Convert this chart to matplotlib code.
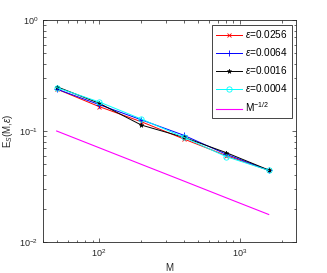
import matplotlib
matplotlib.use("Agg")
import matplotlib.pyplot as plt
import numpy as np

plt.rcParams['font.family'] = ['Liberation Sans', 'DejaVu Sans']
plt.rcParams['mathtext.fontset'] = 'custom'
plt.rcParams['mathtext.rm'] = 'Liberation Sans'
plt.rcParams['mathtext.it'] = 'Liberation Sans:italic'

M = [50, 100, 200, 400, 800, 1600]
err_0256 = [0.239, 0.166, 0.121, 0.0847, 0.0600, 0.0442]
err_0064 = [0.239, 0.173, 0.126, 0.0915, 0.0617, 0.0443]
err_0016 = [0.251, 0.178, 0.113, 0.0877, 0.0638, 0.0445]
err_0004 = [0.246, 0.183, 0.128, 0.0877, 0.0587, 0.0442]
ref_half = [0.1, 0.0707, 0.05, 0.0354, 0.025, 0.0177]
labels = [r'$\epsilon$=0.0256', r'$\epsilon$=0.0064', r'$\epsilon$=0.0016',
          r'$\epsilon$=0.0004', r'M$^{-1/2}$']

fig = plt.figure(figsize=(3.27, 2.73), dpi=100)
ax = fig.add_axes([43/327, 31/273, 253/327, 222/273])

ax.loglog(M, err_0256, color='#ff0000', marker='x', ms=3.2, lw=0.7, mew=0.6, label=labels[0])
ax.loglog(M, err_0064, color='#0000ff', marker='+', ms=4.2, lw=0.7, mew=0.6, label=labels[1])
ax.loglog(M, err_0016, color='black', marker='*', ms=3.4, lw=0.7, mew=0.4, label=labels[2])
ax.loglog(M, err_0004, color='#00ffff', marker='o', ms=3.8, lw=0.7, mew=0.6, mfc='none', label=labels[3])
ax.loglog(M, ref_half, color='#ff00ff', lw=0.8, label=labels[4])

ax.set_xlim(40, 2500)
ax.set_ylim(1e-2, 1)
edge = '#262626'
for s in ax.spines.values():
    s.set_color(edge)
    s.set_linewidth(0.6)
ax.tick_params(which='both', direction='in', top=True, right=True, colors=edge,
               labelsize=6.5, width=0.5)
ax.tick_params(which='major', length=3)
ax.tick_params(which='minor', length=1.8)
ax.set_xlabel('M', fontsize=7, color=edge, labelpad=3)
ax.set_ylabel(r'E$_S$(M,$\epsilon$)', fontsize=7, color=edge)
ax.yaxis.set_label_coords(-0.11, 0.5)

leg = ax.legend(loc='upper right', fontsize=7.2, frameon=True, fancybox=False,
                edgecolor=edge, framealpha=1, borderaxespad=0.45, handlelength=2.6,
                handletextpad=0.3, labelspacing=0.6, borderpad=0.4)
leg.get_frame().set_linewidth(0.6)

fig.savefig('out.png', dpi=100)
